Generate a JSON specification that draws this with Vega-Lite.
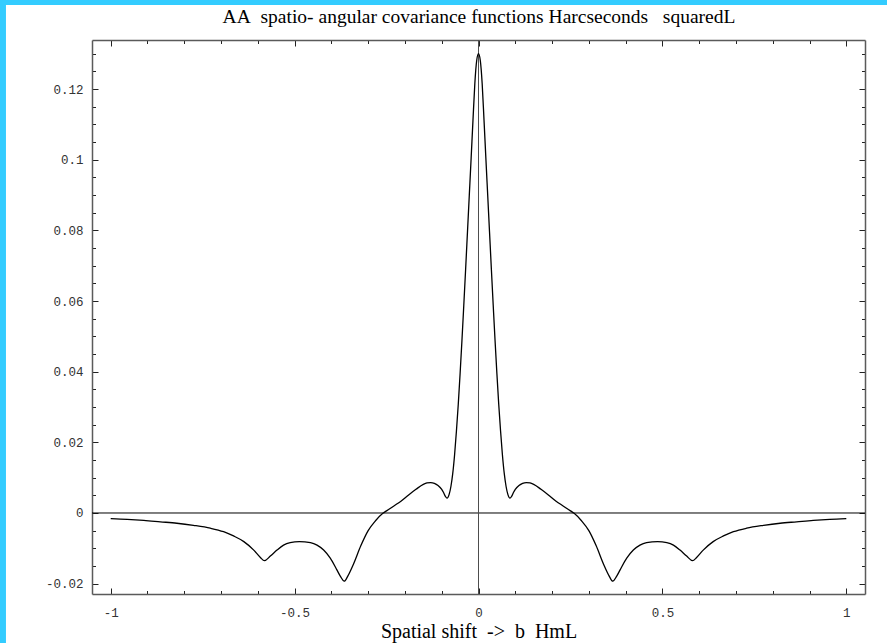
{
  "$schema": "https://vega.github.io/schema/vega-lite/v6.json",
  "width": 773,
  "height": 554,
  "autosize": {"type": "none"},
  "padding": {"left": 92, "top": 40, "right": 22, "bottom": 49},
  "background": "white",
  "config": {
    "view": {"stroke": null},
    "axis": {
      "grid": false,
      "domainColor": "#5a5a5a",
      "domainWidth": 1.5,
      "tickColor": "#222222",
      "tickWidth": 1,
      "labelFont": "Liberation Mono",
      "labelFontSize": 12.5,
      "labelColor": "#333333",
      "labelFlush": false,
      "labelOverlap": false,
      "labelBound": false,
      "titleFont": "Liberation Serif",
      "titleFontSize": 20,
      "titleFontWeight": "normal",
      "titleColor": "#000000",
      "zindex": 1
    }
  },
  "resolve": {"axis": {"x": "independent", "y": "independent"}},
  "layer": [
    {
      "data": {"values": [{}]},
      "mark": {"type": "rect", "color": "#33ccff"},
      "encoding": {
        "x": {"datum": -1.301, "scale": {"domain": [-1.0508, 1.0508], "nice": false, "zero": false}, "axis": null},
        "x2": {"datum": -1.2847},
        "y": {"datum": -0.0368, "scale": {"domain": [-0.02293, 0.13388], "nice": false, "zero": false}, "axis": null},
        "y2": {"datum": 0.1452}
      }
    },
    {
      "data": {"values": [{}]},
      "mark": {"type": "rect", "color": "#33ccff"},
      "encoding": {
        "x": {"datum": -1.301, "scale": {"domain": [-1.0508, 1.0508], "nice": false, "zero": false}, "axis": null},
        "x2": {"datum": 1.1107},
        "y": {"datum": 0.14379, "scale": {"domain": [-0.02293, 0.13388], "nice": false, "zero": false}, "axis": null},
        "y2": {"datum": 0.1452}
      }
    },
    {
      "data": {"values": [{}]},
      "mark": {"type": "rule", "color": "#000000", "strokeWidth": 1},
      "encoding": {
        "y": {
          "datum": 0,
          "scale": {"domain": [-0.02293, 0.13388], "nice": false, "zero": false},
          "axis": {
            "orient": "right",
            "title": null,
            "labels": false,
            "values": [-0.02,-0.015,-0.01,-0.005,0,0.005,0.01,0.015,0.02,0.025,0.03,0.035,0.04,0.045,0.05,0.055,0.06,0.065,0.07,0.075,0.08,0.085,0.09,0.095,0.1,0.105,0.11,0.115,0.12,0.125,0.13],
            "tickSize": {"condition": {"test": "abs(datum.value*50 - round(datum.value*50)) < 0.01", "value": -6}, "value": -3.5}
          }
        }
      }
    },
    {
      "data": {"values": [{}]},
      "mark": {"type": "rule", "color": "#4d4d4d", "strokeWidth": 1},
      "encoding": {
        "x": {
          "datum": 0,
          "scale": {"domain": [-1.0508, 1.0508], "nice": false, "zero": false},
          "axis": {
            "orient": "top",
            "title": "AA\u00a0 spatio- angular covariance functions Harcseconds\u00a0\u00a0 squaredL",
            "titleFontSize": 19.5,
            "titleY": -18,
            "titleBaseline": "alphabetic",
            "labels": false,
            "values": [-1,-0.9,-0.8,-0.7,-0.6,-0.5,-0.4,-0.3,-0.2,-0.1,0,0.1,0.2,0.3,0.4,0.5,0.6,0.7,0.8,0.9,1],
            "tickSize": {"condition": {"test": "abs(datum.value*2 - round(datum.value*2)) < 0.01", "value": -6}, "value": -3.5}
          }
        }
      }
    },
    {
      "data": {
        "values": [
          {"b": -1, "cov": -0.0016},
          {"b": -0.955, "cov": -0.0018},
          {"b": -0.91, "cov": -0.0021},
          {"b": -0.865, "cov": -0.0025},
          {"b": -0.82, "cov": -0.0029},
          {"b": -0.775, "cov": -0.0035},
          {"b": -0.729, "cov": -0.0043},
          {"b": -0.693, "cov": -0.0053},
          {"b": -0.666, "cov": -0.0065},
          {"b": -0.638, "cov": -0.0081},
          {"b": -0.611, "cov": -0.0105},
          {"b": -0.593, "cov": -0.0126},
          {"b": -0.582, "cov": -0.0135},
          {"b": -0.566, "cov": -0.0122},
          {"b": -0.548, "cov": -0.0105},
          {"b": -0.53, "cov": -0.0091},
          {"b": -0.512, "cov": -0.0084},
          {"b": -0.487, "cov": -0.0081},
          {"b": -0.457, "cov": -0.0084},
          {"b": -0.439, "cov": -0.0091},
          {"b": -0.421, "cov": -0.0105},
          {"b": -0.403, "cov": -0.0128},
          {"b": -0.385, "cov": -0.0161},
          {"b": -0.375, "cov": -0.018},
          {"b": -0.365, "cov": -0.0193},
          {"b": -0.355, "cov": -0.0178},
          {"b": -0.34, "cov": -0.0145},
          {"b": -0.32, "cov": -0.0093},
          {"b": -0.3, "cov": -0.005},
          {"b": -0.28, "cov": -0.0022},
          {"b": -0.26, "cov": -0.0001},
          {"b": -0.25, "cov": 0.0006},
          {"b": -0.23, "cov": 0.002},
          {"b": -0.21, "cov": 0.0034},
          {"b": -0.19, "cov": 0.0051},
          {"b": -0.17, "cov": 0.0067},
          {"b": -0.15, "cov": 0.0081},
          {"b": -0.14, "cov": 0.0085},
          {"b": -0.13, "cov": 0.0086},
          {"b": -0.12, "cov": 0.0084},
          {"b": -0.11, "cov": 0.0078},
          {"b": -0.1, "cov": 0.0067},
          {"b": -0.095, "cov": 0.0058},
          {"b": -0.09, "cov": 0.0047},
          {"b": -0.0855, "cov": 0.0042},
          {"b": -0.08, "cov": 0.0052},
          {"b": -0.075, "cov": 0.0075},
          {"b": -0.07, "cov": 0.0112},
          {"b": -0.065, "cov": 0.0165},
          {"b": -0.06, "cov": 0.0232},
          {"b": -0.055, "cov": 0.0308},
          {"b": -0.05, "cov": 0.0395},
          {"b": -0.045, "cov": 0.0488},
          {"b": -0.04, "cov": 0.0588},
          {"b": -0.035, "cov": 0.069},
          {"b": -0.03, "cov": 0.0795},
          {"b": -0.025, "cov": 0.09},
          {"b": -0.02, "cov": 0.1005},
          {"b": -0.015, "cov": 0.1112},
          {"b": -0.01, "cov": 0.1215},
          {"b": -0.005, "cov": 0.128},
          {"b": 0, "cov": 0.13},
          {"b": 0.005, "cov": 0.128},
          {"b": 0.01, "cov": 0.1215},
          {"b": 0.015, "cov": 0.1112},
          {"b": 0.02, "cov": 0.1005},
          {"b": 0.025, "cov": 0.09},
          {"b": 0.03, "cov": 0.0795},
          {"b": 0.035, "cov": 0.069},
          {"b": 0.04, "cov": 0.0588},
          {"b": 0.045, "cov": 0.0488},
          {"b": 0.05, "cov": 0.0395},
          {"b": 0.055, "cov": 0.0308},
          {"b": 0.06, "cov": 0.0232},
          {"b": 0.065, "cov": 0.0165},
          {"b": 0.07, "cov": 0.0112},
          {"b": 0.075, "cov": 0.0075},
          {"b": 0.08, "cov": 0.0052},
          {"b": 0.0855, "cov": 0.0042},
          {"b": 0.09, "cov": 0.0047},
          {"b": 0.095, "cov": 0.0058},
          {"b": 0.1, "cov": 0.0067},
          {"b": 0.11, "cov": 0.0078},
          {"b": 0.12, "cov": 0.0084},
          {"b": 0.13, "cov": 0.0086},
          {"b": 0.14, "cov": 0.0085},
          {"b": 0.15, "cov": 0.0081},
          {"b": 0.17, "cov": 0.0067},
          {"b": 0.19, "cov": 0.0051},
          {"b": 0.21, "cov": 0.0034},
          {"b": 0.23, "cov": 0.002},
          {"b": 0.25, "cov": 0.0006},
          {"b": 0.26, "cov": -0.0001},
          {"b": 0.28, "cov": -0.0022},
          {"b": 0.3, "cov": -0.005},
          {"b": 0.32, "cov": -0.0093},
          {"b": 0.34, "cov": -0.0145},
          {"b": 0.355, "cov": -0.0178},
          {"b": 0.365, "cov": -0.0193},
          {"b": 0.375, "cov": -0.018},
          {"b": 0.385, "cov": -0.0161},
          {"b": 0.403, "cov": -0.0128},
          {"b": 0.421, "cov": -0.0105},
          {"b": 0.439, "cov": -0.0091},
          {"b": 0.457, "cov": -0.0084},
          {"b": 0.487, "cov": -0.0081},
          {"b": 0.512, "cov": -0.0084},
          {"b": 0.53, "cov": -0.0091},
          {"b": 0.548, "cov": -0.0105},
          {"b": 0.566, "cov": -0.0122},
          {"b": 0.582, "cov": -0.0135},
          {"b": 0.593, "cov": -0.0126},
          {"b": 0.611, "cov": -0.0105},
          {"b": 0.638, "cov": -0.0081},
          {"b": 0.666, "cov": -0.0065},
          {"b": 0.693, "cov": -0.0053},
          {"b": 0.729, "cov": -0.0043},
          {"b": 0.775, "cov": -0.0035},
          {"b": 0.82, "cov": -0.0029},
          {"b": 0.865, "cov": -0.0025},
          {"b": 0.91, "cov": -0.0021},
          {"b": 0.955, "cov": -0.0018},
          {"b": 1, "cov": -0.0016}
        ]
      },
      "mark": {"type": "line", "color": "#000000", "strokeWidth": 1.3, "interpolate": "monotone"},
      "encoding": {
        "x": {
          "field": "b",
          "type": "quantitative",
          "scale": {"domain": [-1.0508, 1.0508], "nice": false, "zero": false},
          "axis": {
            "orient": "bottom",
            "title": "Spatial shift\u00a0 ->\u00a0 b\u00a0 HmL",
            "titleY": 43,
            "titleBaseline": "alphabetic",
            "values": [-1,-0.9,-0.8,-0.7,-0.6,-0.5,-0.4,-0.3,-0.2,-0.1,0,0.1,0.2,0.3,0.4,0.5,0.6,0.7,0.8,0.9,1],
            "tickSize": {"condition": {"test": "abs(datum.value*2 - round(datum.value*2)) < 0.01", "value": -6}, "value": -3.5},
            "labelPadding": 18,
            "labelExpr": "abs(datum.value*2 - round(datum.value*2)) < 0.01 ? '' + datum.value : ''"
          }
        },
        "y": {
          "field": "cov",
          "type": "quantitative",
          "scale": {"domain": [-0.02293, 0.13388], "nice": false, "zero": false},
          "axis": {
            "orient": "left",
            "title": null,
            "values": [-0.02,-0.015,-0.01,-0.005,0,0.005,0.01,0.015,0.02,0.025,0.03,0.035,0.04,0.045,0.05,0.055,0.06,0.065,0.07,0.075,0.08,0.085,0.09,0.095,0.1,0.105,0.11,0.115,0.12,0.125,0.13],
            "tickSize": {"condition": {"test": "abs(datum.value*50 - round(datum.value*50)) < 0.01", "value": -6}, "value": -3.5},
            "labelPadding": 15,
            "labelExpr": "abs(datum.value*50 - round(datum.value*50)) < 0.01 ? '' + datum.value : ''"
          }
        }
      }
    }
  ]
}
